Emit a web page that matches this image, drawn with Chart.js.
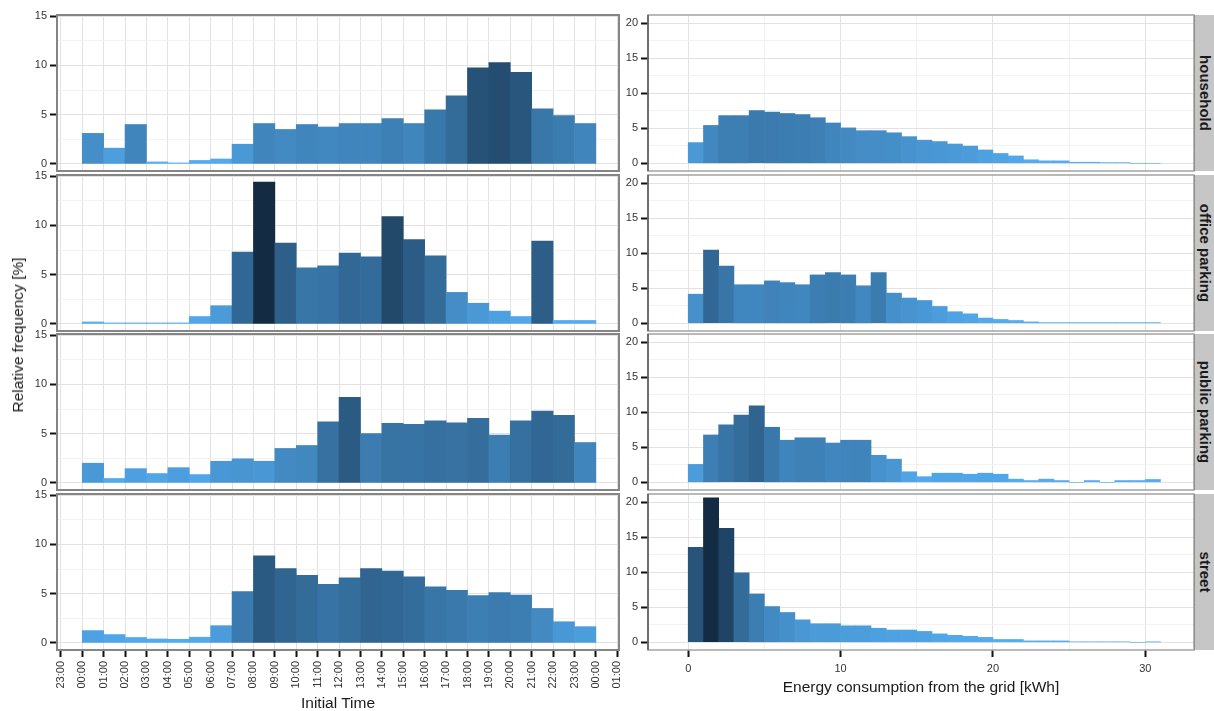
<!DOCTYPE html>
<html>
<head>
<meta charset="utf-8">
<script src="https://cdn.jsdelivr.net/npm/chart.js@4.4.1/dist/chart.umd.min.js"></script>
<style>
  body { margin: 0; background: #fff; font-family: "Liberation Sans", Arial, sans-serif; }
  #wrap { position: relative; width: 1214px; height: 711px; overflow: hidden; background: #fff; }
  #wrap canvas { position: absolute; }
  .strip { position: absolute; left: 1194px; width: 20px; background: #c6c6c6; border-left: 1px solid #8c8c8c; box-sizing: border-box; }
  .strip span { position: absolute; left: 50%; top: 50%; transform: translate(-50%, -50%) rotate(90deg); white-space: nowrap; font-weight: bold; font-size: 15px; color: #1a1a1a; }
  .title { position: absolute; font-size: 15.5px; color: #1a1a1a; white-space: nowrap; }
</style>
</head>
<body>
<div id="wrap"></div>
<script>
// facets (rows)
const facets = ["household", "office parking", "public parking", "street"];

// left column: start of each 1h bin
const hourBins = [0, 1, 2, 3, 4, 5, 6, 7, 8, 9, 10, 11, 12, 13, 14, 15, 16, 17, 18, 19, 20, 21, 22, 23];
const timeTickLabels = ["23:00", "00:00", "01:00", "02:00", "03:00", "04:00", "05:00", "06:00", "07:00",
  "08:00", "09:00", "10:00", "11:00", "12:00", "13:00", "14:00", "15:00", "16:00", "17:00", "18:00",
  "19:00", "20:00", "21:00", "22:00", "23:00", "00:00", "01:00"];

const timeHousehold = [3.1, 1.6, 4.0, 0.2, 0.1, 0.35, 0.5, 2.0, 4.1, 3.5, 4.0, 3.75,
  4.1, 4.1, 4.6, 4.1, 5.5, 6.9, 9.75, 10.3, 9.3, 5.6, 4.9, 4.1];
const timeOffice = [0.2, 0.1, 0.1, 0.1, 0.1, 0.75, 1.85, 7.3, 14.4, 8.2, 5.7, 5.9,
  7.2, 6.8, 10.9, 8.55, 6.9, 3.2, 2.1, 1.3, 0.75, 8.4, 0.35, 0.35];
const timePublic = [2.0, 0.45, 1.45, 0.95, 1.55, 0.85, 2.2, 2.45, 2.2, 3.5, 3.8, 6.2,
  8.7, 5.0, 6.05, 5.95, 6.3, 6.1, 6.55, 4.85, 6.3, 7.3, 6.85, 4.1];
const timeStreet = [1.25, 0.85, 0.55, 0.4, 0.37, 0.58, 1.75, 5.2, 8.85, 7.55, 6.85, 5.95,
  6.6, 7.55, 7.3, 6.7, 5.7, 5.35, 4.8, 5.1, 4.85, 3.5, 2.15, 1.65];

// right column: start of each 1 kWh bin
const energyBins = [0, 1, 2, 3, 4, 5, 6, 7, 8, 9, 10, 11, 12, 13, 14, 15, 16, 17, 18, 19,
  20, 21, 22, 23, 24, 25, 26, 27, 28, 29, 30];
const energyTickLabels = ["0", "10", "20", "30"];

const energyHousehold = [2.95, 5.4, 6.8, 6.8, 7.5, 7.3, 7.1, 6.95, 6.5, 5.75, 5.05, 4.65,
  4.65, 4.35, 3.8, 3.3, 3.1, 2.75, 2.45, 1.9, 1.4, 1.05, 0.5, 0.35, 0.35, 0.15, 0.15, 0.1, 0.1, 0, 0];
const energyOffice = [4.15, 10.45, 8.15, 5.5, 5.5, 6.05, 5.8, 5.5, 6.9, 7.25, 6.9, 5.35,
  7.25, 4.3, 3.6, 3.25, 2.4, 1.65, 1.35, 0.75, 0.55, 0.4, 0.2, 0.1, 0.1, 0.1, 0.1, 0.1, 0.1, 0.1, 0.1];
const energyPublic = [2.55, 6.75, 8.2, 9.6, 10.9, 7.85, 6.0, 6.35, 6.35, 5.6, 6.0, 6.0,
  3.85, 3.3, 1.5, 0.8, 1.3, 1.3, 1.15, 1.3, 1.15, 0.45, 0.25, 0.45, 0.25, 0, 0.25, 0, 0.25, 0.25, 0.4];
const energyStreet = [13.55, 20.6, 16.25, 9.9, 6.9, 5.1, 4.25, 3.2, 2.65, 2.65, 2.35, 2.35,
  2.0, 1.75, 1.75, 1.55, 1.2, 1.0, 0.85, 0.7, 0.4, 0.4, 0.2, 0.2, 0.2, 0.07, 0.07, 0.07, 0.07, 0, 0.05];

const timeSeries = [timeHousehold, timeOffice, timePublic, timeStreet];
const energySeries = [energyHousehold, energyOffice, energyPublic, energyStreet];

// layout
const wrap = document.getElementById("wrap");
const rowTop = [15, 175, 334, 494];
const rowH = 156;
const pad = 12;
const font = { family: "'Liberation Sans', Arial, sans-serif", size: 11 };
const tickText = "#333";

// light -> dark fill by value, like a count gradient
function shade(t) {
  const lo = [86, 177, 247], hi = [19, 43, 67];
  t = Math.pow(t, 0.88);
  return "rgb(" + lo.map((c, k) => Math.round(c + (hi[k] - c) * t)).join(",") + ")";
}

const panelFrame = {
  id: "panelFrame",
  afterDraw(chart, args, opts) {
    const { ctx, chartArea: a } = chart;
    ctx.save();
    ctx.strokeStyle = opts.color;
    ctx.lineWidth = opts.width;
    ctx.strokeRect(a.left, a.top, a.right - a.left, a.bottom - a.top);
    if (opts.leftColor) {
      ctx.strokeStyle = opts.leftColor;
      ctx.beginPath();
      ctx.moveTo(a.left, a.top);
      ctx.lineTo(a.left, a.bottom);
      ctx.stroke();
    }
    ctx.restore();
  }
};

function addCanvas(left, top, w, h) {
  const c = document.createElement("canvas");
  c.width = w; c.height = h;
  c.style.left = left + "px"; c.style.top = top + "px";
  c.style.width = w + "px"; c.style.height = h + "px";
  wrap.appendChild(c);
  return c;
}

function histChart(canvas, bins, vals, maxVal, o) {
  return new Chart(canvas, {
    type: "bar",
    data: {
      datasets: [{
        data: bins.map((b, i) => ({ x: b + 0.5, y: vals[i] })),
        backgroundColor: vals.map(v => shade(v / maxVal)),
        borderWidth: 0,
        barPercentage: 1,
        categoryPercentage: 1
      }]
    },
    options: {
      responsive: false,
      animation: false,
      events: [],
      layout: { padding: o.padding },
      plugins: {
        legend: { display: false },
        tooltip: { enabled: false },
        panelFrame: o.frame
      },
      scales: {
        x: {
          type: "linear",
          offset: false,
          min: o.xMin, max: o.xMax,
          afterBuildTicks: s => { s.ticks = o.xTicks.map(v => ({ value: v })); },
          afterFit: s => { s.height = o.xHeight; },
          ticks: {
            display: o.showX,
            autoSkip: false,
            maxRotation: o.xRot, minRotation: o.xRot,
            padding: o.xPad,
            font, color: tickText,
            callback: o.xLabel
          },
          grid: {
            offset: false,
            color: ctx => o.xMajor(ctx.tick ? ctx.tick.value : 0) ? "#e2e2e2" : "#f0f0f0",
            drawTicks: o.showX,
            tickLength: 7,
            tickWidth: 2,
            tickColor: ctx => o.xMajor(ctx.tick ? ctx.tick.value : 0) ? "#111" : "rgba(0,0,0,0)"
          },
          border: { display: false }
        },
        y: {
          min: o.yMin, max: o.yMax,
          afterBuildTicks: s => { s.ticks = o.yTicks.map(v => ({ value: v })); },
          afterFit: s => { s.width = o.yWidth; },
          ticks: {
            padding: 3,
            font, color: tickText,
            callback: v => (v % 5 === 0 ? String(v) : "")
          },
          grid: {
            color: ctx => (ctx.tick && ctx.tick.value % 5 === 0) ? "#e2e2e2" : "#f2f2f2",
            tickLength: 7,
            tickWidth: 2,
            tickColor: ctx => (ctx.tick && ctx.tick.value % 5 === 0) ? "#111" : "rgba(0,0,0,0)"
          },
          border: { display: false }
        }
      }
    },
    plugins: [panelFrame]
  });
}

const timeMax = Math.max(...timeSeries.flat());
const energyMax = Math.max(...energySeries.flat());
const hourTicks = timeTickLabels.map((_, i) => i - 1);

facets.forEach((name, r) => {
  const last = r === facets.length - 1;
  const xH = last ? 56 : 0;

  // left: initial time (extra room on the right for the rotated last label)
  const cl = addCanvas(0, rowTop[r] - pad, 645, rowH + pad + (last ? xH : pad));
  histChart(cl, hourBins, timeSeries[r], timeMax, {
    padding: { top: pad, right: 26, bottom: last ? 0 : pad, left: 0 },
    xMin: -1.18, xMax: 25.08, xTicks: hourTicks, xHeight: xH, showX: last,
    xRot: 90, xPad: 4,
    xLabel: (v, i) => timeTickLabels[i],
    xMajor: () => true,
    yMin: -0.72, yMax: 15.12, yTicks: [0, 2.5, 5, 7.5, 10, 12.5, 15], yWidth: 57,
    frame: { color: "#858585", width: 2 }
  });

  // right: energy
  const xH2 = last ? 30 : 0;
  const cr = addCanvas(600, rowTop[r] - pad, 600, rowH + pad + (last ? xH2 : pad));
  histChart(cr, energyBins, energySeries[r], energyMax, {
    padding: { top: pad, right: 6, bottom: last ? 0 : pad, left: 0 },
    xMin: -2.64, xMax: 33.2, xTicks: [0, 5, 10, 15, 20, 25, 30], xHeight: xH2, showX: last,
    xRot: 0, xPad: 5,
    xLabel: v => (v % 10 === 0 ? energyTickLabels[v / 10] : ""),
    xMajor: v => v % 10 === 0,
    yMin: -1.1, yMax: 21.15, yTicks: [0, 2.5, 5, 7.5, 10, 12.5, 15, 17.5, 20], yWidth: 48,
    frame: { color: "#a3a3a3", width: 1.5, leftColor: "#555" }
  });

  // facet strip
  const s = document.createElement("div");
  s.className = "strip";
  s.style.top = rowTop[r] + "px";
  s.style.height = rowH + "px";
  s.innerHTML = "<span>" + name + "</span>";
  wrap.appendChild(s);
});

// axis titles
function addTitle(text, x, y, rot) {
  const d = document.createElement("div");
  d.className = "title";
  d.textContent = text;
  d.style.left = x + "px";
  d.style.top = y + "px";
  d.style.transform = "translate(-50%, -50%)" + (rot ? " rotate(-90deg)" : "");
  wrap.appendChild(d);
}
addTitle("Relative frequency [%]", 18, 335, true);
addTitle("Initial Time", 338, 703, false);
addTitle("Energy consumption from the grid [kWh]", 921, 687, false);
</script>
</body>
</html>
